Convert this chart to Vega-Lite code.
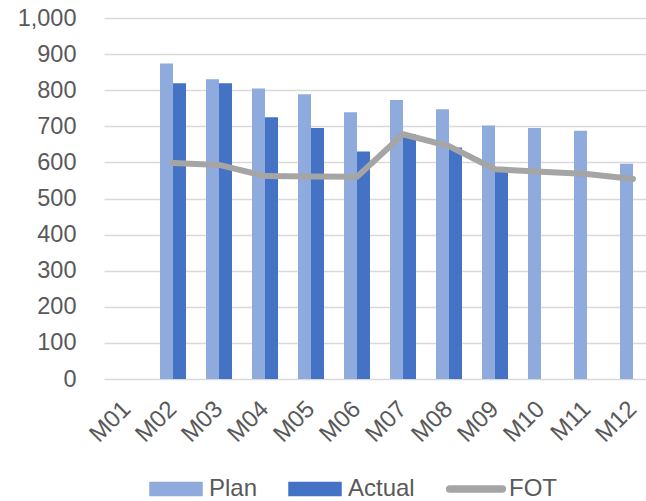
{
  "$schema": "https://vega.github.io/schema/vega-lite/v6.json",
  "width": 552,
  "height": 361,
  "autosize": {"type": "none"},
  "padding": {"left": 104, "top": 18, "right": 0, "bottom": 122},
  "background": "white",
  "config": {
    "view": {"stroke": null},
    "font": "Liberation Sans"
  },
  "datasets": {
    "bars": [
      {"month": "M02", "series": "Plan", "value": 874},
      {"month": "M03", "series": "Plan", "value": 830},
      {"month": "M04", "series": "Plan", "value": 805},
      {"month": "M05", "series": "Plan", "value": 789},
      {"month": "M06", "series": "Plan", "value": 739},
      {"month": "M07", "series": "Plan", "value": 773},
      {"month": "M08", "series": "Plan", "value": 747},
      {"month": "M09", "series": "Plan", "value": 702},
      {"month": "M10", "series": "Plan", "value": 695},
      {"month": "M11", "series": "Plan", "value": 688},
      {"month": "M12", "series": "Plan", "value": 596},
      {"month": "M02", "series": "Actual", "value": 819},
      {"month": "M03", "series": "Actual", "value": 819},
      {"month": "M04", "series": "Actual", "value": 725},
      {"month": "M05", "series": "Actual", "value": 695},
      {"month": "M06", "series": "Actual", "value": 630},
      {"month": "M07", "series": "Actual", "value": 678},
      {"month": "M08", "series": "Actual", "value": 641},
      {"month": "M09", "series": "Actual", "value": 578}
    ],
    "fot": [
      {"month": "M02", "value": 598},
      {"month": "M03", "value": 593},
      {"month": "M04", "value": 562},
      {"month": "M05", "value": 561},
      {"month": "M06", "value": 560},
      {"month": "M07", "value": 678},
      {"month": "M08", "value": 645},
      {"month": "M09", "value": 581},
      {"month": "M10", "value": 574},
      {"month": "M11", "value": 568},
      {"month": "M12", "value": 554}
    ]
  },
  "encoding": {
    "x": {
      "field": "month",
      "type": "nominal",
      "sort": null,
      "scale": {
        "domain": ["M01", "M02", "M03", "M04", "M05", "M06", "M07", "M08", "M09", "M10", "M11", "M12"],
        "paddingInner": 0.435,
        "paddingOuter": 0.2175
      },
      "axis": {
        "title": null,
        "labelAngle": -45,
        "labelAlign": "right",
        "labelBaseline": "middle",
        "labelFontSize": 24,
        "labelColor": "#595959",
        "labelPadding": 26,
        "ticks": false,
        "domain": false,
        "grid": false
      }
    },
    "y": {
      "field": "value",
      "type": "quantitative",
      "scale": {"domain": [0, 1000], "nice": false},
      "axis": {
        "title": null,
        "values": [0, 100, 200, 300, 400, 500, 600, 700, 800, 900, 1000],
        "format": ",.0f",
        "domain": false,
        "ticks": false,
        "tickSize": 0,
        "labelPadding": 28,
        "labelFontSize": 23.5,
        "labelColor": "#595959",
        "gridColor": "#d9d9d9",
        "gridWidth": 1.5
      }
    }
  },
  "layer": [
    {
      "data": {"name": "bars"},
      "mark": {"type": "bar"},
      "encoding": {
        "xOffset": {
          "field": "series",
          "type": "nominal",
          "scale": {"domain": ["Plan", "Actual"], "paddingInner": 0, "paddingOuter": 0}
        },
        "color": {
          "field": "series",
          "type": "nominal",
          "scale": {"domain": ["Plan", "Actual", "FOT"], "range": ["#8faadc", "#4472c4", "#a5a5a5"]},
          "legend": {
            "orient": "none",
            "legendX": 45,
            "legendY": 444,
            "direction": "horizontal",
            "title": null,
            "symbolSize": 2704,
            "symbolType": "M-1,-0.25H1V0.25H-1Z",
            "labelFontSize": 24,
            "labelColor": "#595959",
            "labelOffset": 6,
            "columnPadding": 28,
            "padding": 0,
            "encode": {
              "symbols": {
                "update": {
                  "shape": {"signal": "datum.value === 'FOT' ? 'M-1.015,-0.115H1.015A0.115,0.115 0 0 1 1.015,0.115H-1.015A0.115,0.115 0 0 1 -1.015,-0.115Z' : 'M-1,-0.25H1V0.25H-1Z'"},
                  "fill": {"signal": "datum.value === 'Plan' ? '#8faadc' : datum.value === 'Actual' ? '#4472c4' : '#a5a5a5'"},
                  "stroke": {"value": "transparent"},
                  "opacity": {"value": 1}
                }
              }
            }
          }
        }
      }
    },
    {
      "data": {"name": "fot"},
      "mark": {"type": "line", "strokeWidth": 6, "strokeCap": "round", "strokeJoin": "round"},
      "encoding": {
        "color": {"datum": "FOT", "type": "nominal"}
      }
    }
  ]
}
